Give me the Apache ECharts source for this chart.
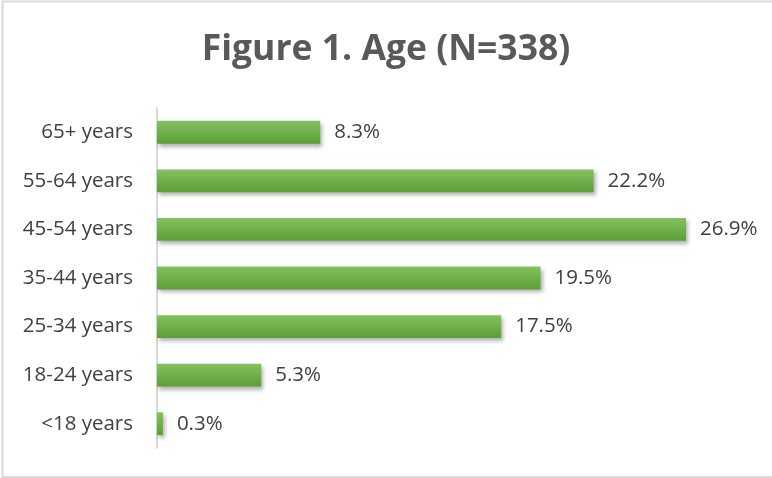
<!DOCTYPE html>
<html>
<head>
<meta charset="utf-8">
<script src="https://cdn.jsdelivr.net/npm/echarts@6/dist/echarts.min.js"></script>
<style>
html,body{margin:0;padding:0;background:#fff;}
#chart{width:772px;height:478px;}
</style>
</head>
<body>
<div id="chart"></div>
<script>
const titleText = 'Figure 1. Age (N=338)';
const categories = ['<18 years','18-24 years','25-34 years','35-44 years','45-54 years','55-64 years','65+ years'];
const percentValues = [0.3, 5.3, 17.5, 19.5, 26.9, 22.2, 8.3];

const chart = echarts.init(document.getElementById('chart'), null, {renderer:'canvas'});
chart.setOption({
  backgroundColor:'#ffffff',
  animation:false,
  title:{
    text:titleText,
    left:'center',
    top:27,
    textStyle:{fontFamily:'Open Sans',fontWeight:'bold',fontSize:35.5,color:'#595959'}
  },
  graphic:[{
    type:'rect',
    shape:{x:2.5,y:1.5,width:790,height:475.5},
    style:{fill:'none',stroke:'#d9d9d9',lineWidth:2},
    silent:true
  }],
  grid:{left:157,top:108,width:590,height:340,containLabel:false},
  xAxis:{
    type:'value',min:0,max:30,show:false
  },
  yAxis:{
    type:'category',
    data:categories,
    axisLine:{show:true,lineStyle:{color:'#d9d9d9',width:2}},
    axisTick:{show:false},
    axisLabel:{fontFamily:'Open Sans',fontSize:20.5,color:'#404040',margin:24}
  },
  series:[{
    type:'bar',
    data:percentValues,
    barWidth:'47%',
    itemStyle:{
      color:new echarts.graphic.LinearGradient(0,0,0,1,[
        {offset:0,color:'#84c15f'},
        {offset:1,color:'#5c9e36'}
      ]),
      shadowColor:'rgba(0,0,0,0.3)',
      shadowBlur:4,
      shadowOffsetX:2,
      shadowOffsetY:3
    },
    label:{
      show:true,
      position:'right',
      distance:14,
      fontFamily:'Open Sans',
      fontSize:20.5,
      color:'#404040',
      formatter:p=>p.value.toFixed(1)+'%'
    }
  }]
});
</script>
</body>
</html>
